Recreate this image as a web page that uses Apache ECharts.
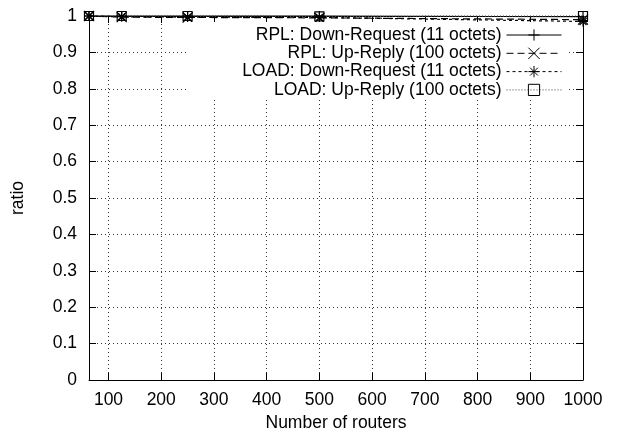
<!DOCTYPE html>
<html>
<head>
<meta charset="utf-8">
<script src="https://cdn.jsdelivr.net/npm/echarts@6/dist/echarts.min.js"></script>
<style>
html,body{margin:0;padding:0;background:#fff;}
#c{width:618px;height:430px;}
</style>
</head>
<body>
<div id="c"></div>
<script>
// ---- data ----
const routers = [63, 125, 250, 500, 1000];
const rplDownRequest = [1, 1, 1, 1, 0.998];
const rplUpReply = [1, 0.997, 0.996, 0.995, 0.99];
const loadDownRequest = [1, 0.998, 0.997, 0.996, 0.985];
const loadUpReply = [1, 1, 1, 0.999, 1];
const seriesNames = [
  'RPL: Down-Request (11 octets)',
  'RPL: Up-Reply (100 octets)',
  'LOAD: Down-Request (11 octets)',
  'LOAD: Up-Reply (100 octets)'
];
const xTicks = [100, 200, 300, 400, 500, 600, 700, 800, 900, 1000];
const yTicks = [0, 0.1, 0.2, 0.3, 0.4, 0.5, 0.6, 0.7, 0.8, 0.9, 1];

const FONT = '"Liberation Sans", Arial, sans-serif';
const FS = 17.5;
const pairs = (ys) => routers.map((x, i) => [x, ys[i]]);

const plusSym = 'path://M5,0L5,10M0,5L10,5';
const crossSym = 'path://M0,0L10,10M10,0L0,10';
const starSym = 'path://M5,0L5,10M0,5L10,5M1.5,1.5L8.5,8.5M8.5,1.5L1.5,8.5';

function mkSeries(name, ys, sym, lineType, lineColor, size) {
  return {
    name: name,
    type: 'line',
    data: pairs(ys),
    symbol: sym,
    symbolSize: size,
    showAllSymbol: true,
    clip: false,
    lineStyle: {color: lineColor, width: 1.2, type: lineType},
    itemStyle: {color: 'rgba(0,0,0,0)', borderColor: '#000', borderWidth: 1.2},
    emphasis: {disabled: true},
    animation: false
  };
}

const chart = echarts.init(document.getElementById('c'), null, {renderer: 'canvas'});
const tickBase = {show: true, inside: true, length: 7, lineStyle: {color: '#000', width: 1}};
const xTick = Object.assign({}, tickBase, {customValues: xTicks});
chart.setOption({
  animation: false,
  backgroundColor: '#fff',
  textStyle: {fontFamily: FONT},
  grid: {left: 89, right: 35, top: 16, bottom: 50, containLabel: false, outerBoundsMode: 'none'},
  legend: {
    orient: 'vertical',
    right: 52,
    top: 22,
    align: 'right',
    itemWidth: 55,
    itemHeight: 14,
    itemGap: 0.3,
    padding: [4, 4, 1, 55],
    backgroundColor: '#fff',
    selectedMode: false,
    lineStyle: {width: 1},
    itemStyle: {borderWidth: 1},
    textStyle: {fontFamily: FONT, fontSize: FS, color: '#000', lineHeight: 17},
    data: seriesNames
  },
  xAxis: [{
    type: 'value',
    min: routers[0],
    max: 1000,
    name: 'Number of routers',
    nameLocation: 'middle',
    nameGap: 27,
    nameTextStyle: {fontFamily: FONT, fontSize: FS, color: '#000'},
    axisLine: {show: true, onZero: false, lineStyle: {color: '#000', width: 1}},
    axisTick: xTick,
    axisLabel: {
      fontFamily: FONT, fontSize: FS, color: '#000', margin: 11,
      customValues: xTicks, formatter: (v) => String(v), hideOverlap: false
    },
    splitLine: {show: true, lineStyle: {color: '#333', width: 1, type: [1, 3]}}
  }, {
    type: 'value',
    position: 'top',
    min: routers[0],
    max: 1000,
    axisLine: {show: true, onZero: false, lineStyle: {color: '#000', width: 1}},
    axisTick: xTick,
    axisLabel: {show: false, customValues: xTicks},
    splitLine: {show: false}
  }],
  yAxis: [{
    type: 'value',
    min: 0,
    max: 1,
    interval: 0.1,
    name: 'ratio',
    nameLocation: 'middle',
    nameGap: 62,
    nameTextStyle: {fontFamily: FONT, fontSize: FS, color: '#000'},
    axisLine: {show: true, onZero: false, lineStyle: {color: '#000', width: 1}},
    axisTick: tickBase,
    axisLabel: {fontFamily: FONT, fontSize: FS, color: '#000', margin: 12},
    splitLine: {show: true, lineStyle: {color: '#333', width: 1, type: [1, 3]}}
  }, {
    type: 'value',
    position: 'right',
    min: 0,
    max: 1,
    interval: 0.1,
    axisLine: {show: true, onZero: false, lineStyle: {color: '#000', width: 1}},
    axisTick: tickBase,
    axisLabel: {show: false},
    splitLine: {show: false}
  }],
  series: [
    mkSeries(seriesNames[0], rplDownRequest, plusSym, 'solid', '#000', 10),
    mkSeries(seriesNames[1], rplUpReply, crossSym, [7, 4], '#000', 10),
    mkSeries(seriesNames[2], loadDownRequest, starSym, [3, 3], '#000', 10),
    mkSeries(seriesNames[3], loadUpReply, 'rect', [1, 2], '#444', 9)
  ]
});
</script>
</body>
</html>
